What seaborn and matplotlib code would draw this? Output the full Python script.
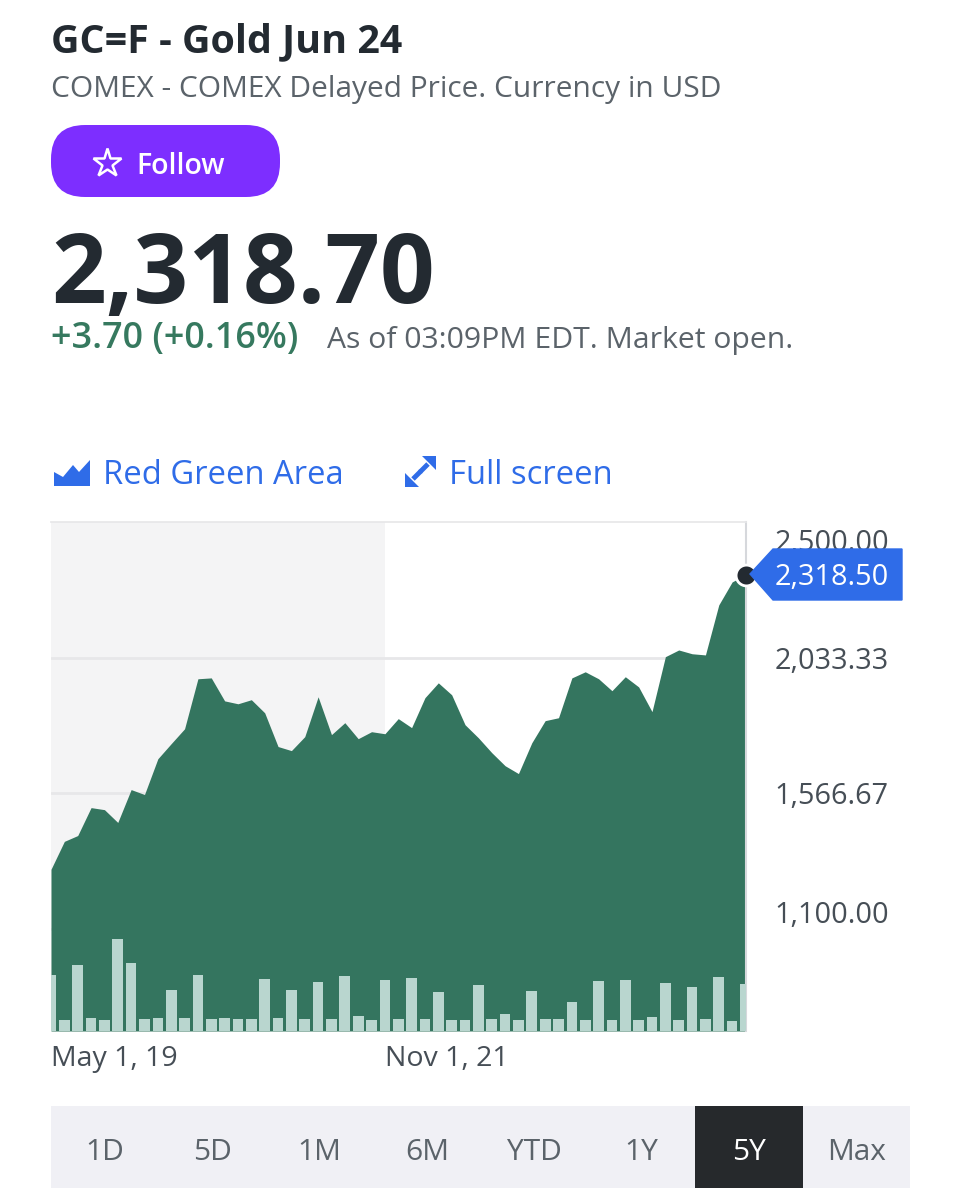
import matplotlib
matplotlib.use("Agg")
import matplotlib.pyplot as plt
import matplotlib.transforms as mtrans
from matplotlib.patches import FancyBboxPatch, Polygon, Rectangle
import pandas as pd
import seaborn as sns

# monthly close
price = [1306, 1402, 1422, 1518, 1511, 1467, 1580, 1563, 1686, 1738, 1789, 1961, 1964,
         1885, 1875, 1889, 1844, 1728, 1714, 1762, 1899, 1769, 1810, 1755, 1779, 1772,
         1824, 1793, 1896, 1947, 1906, 1803, 1758, 1707, 1662, 1635, 1741, 1817, 1827,
         1964, 1985, 1961, 1920, 1968, 1933, 1848, 2037, 2060, 2047, 2043, 2215, 2294, 2318.5]
# volume, relative bar heights
volume = [56, 11, 66, 13, 11, 92, 68, 12, 13, 41, 13, 56, 12, 13, 12, 12, 52, 13, 41, 12,
          49, 12, 55, 15, 11, 51, 12, 53, 12, 39, 11, 11, 46, 12, 17, 11, 40, 12, 12, 29,
          11, 50, 11, 51, 11, 14, 48, 11, 44, 12, 54, 10, 47]
y_ticks = [2500.00, 2033.33, 1566.67, 1100.00]
x_tick_pos = [0, 25]
x_tick_labels = ["May 1, 19", "Nov 1, 21"]
ranges = ["1D", "5D", "1M", "6M", "YTD", "1Y", "5Y", "Max"]

DARK = "#232a31"
GREY = "#5b636a"
AXIS = "#464e56"
GREEN = "#34755f"
BLUE = "#2f6ce8"
PURPLE = "#7d2eff"

sns.set_theme(style="white")
plt.rcParams["font.family"] = ["Open Sans", "DejaVu Sans"]

W, H = 961, 1200
df = pd.DataFrame({"i": range(len(price)), "price": price, "volume": volume})

fig = plt.figure(figsize=(W / 100, H / 100), dpi=100, facecolor="white")
ax = fig.add_axes([51 / W, 1 - 1031 / H, 694.5 / W, 509 / H])

ax.axvspan(0, 25, color="#f4f4f5", lw=0, zorder=0)
for v in y_ticks[1:]:
    ax.axhline(v, color="#e7e7e9", lw=2, zorder=1)
ax.fill_between(df["i"], df["price"], 750, color=GREEN, lw=0, zorder=2)
ax.plot(df["i"].iloc[-1], df["price"].iloc[-1], "o", ms=15, mfc=DARK, mec="white", mew=2,
        clip_on=False, zorder=6)

ax2 = ax.twinx()
sns.barplot(data=df, x="i", y="volume", ax=ax2, native_scale=True, color="#b9d6cf",
            saturation=1, width=0.8, linewidth=0)
ax2.set_xlim(0, 52)
ax2.set_ylim(0, 509)
ax2.set_ylabel("")
ax2.set_xlabel("")
ax2.set_yticks([])
for sp in ax2.spines.values():
    sp.set_visible(False)

ax.set_xlim(0, 52)
ax.set_ylim(750, 2500)
ax.set_xlabel("")
ax.set_ylabel("")
ax.set_xticks(x_tick_pos, x_tick_labels, ha="left", fontsize=20.5, fontweight="medium", color=AXIS)
ax.yaxis.tick_right()
ax.set_yticks(y_ticks, [f"{v:,.2f}" for v in y_ticks], fontsize=20.8, fontweight="medium", color=AXIS)
ax.tick_params(axis="both", length=0)
ax.tick_params(axis="x", pad=10)
ax.tick_params(axis="y", pad=21)
for sp in ["left", "bottom"]:
    ax.spines[sp].set_visible(False)
ax.spines["top"].set_color("#e7e7e9")
ax.spines["right"].set_color("#d6d8dc")
ax.spines["right"].set_linewidth(1.5)

# the outer two axis labels are nudged inwards
labs = ax.get_yticklabels()
labs[0].set_transform(labs[0].get_transform() + mtrans.Affine2D().translate(0, -18))
labs[3].set_transform(labs[3].get_transform() + mtrans.Affine2D().translate(0, 17))

# page furniture, in pixel coordinates
ui = fig.add_axes([0, 0, 1, 1], facecolor="none")
ui.set_xlim(0, W)
ui.set_ylim(H, 0)
ui.axis("off")

ui.text(51, 52, "GC=F - Gold Jun 24", fontsize=28.4, fontweight="bold", color=DARK)
ui.text(51, 97, "COMEX - COMEX Delayed Price. Currency in USD", fontsize=21.55, color=GREY)

ui.add_patch(FancyBboxPatch((51, 125), 229, 72, boxstyle="round,pad=0,rounding_size=34",
                            fc=PURPLE, ec="none"))
ui.plot(107, 163, marker="*", ms=21, mfc="none", mec="white", mew=1.8)
ui.text(136, 174, "Follow", fontsize=20.5, fontweight="semibold", color="white")

ui.text(51, 303, "2,318.70", fontsize=69, fontweight="bold", color=DARK)
ui.text(51, 348, "+3.70 (+0.16%)", fontsize=25.9, fontweight="semibold", color="#36795f")
ui.text(327, 348, "As of 03:09PM EDT. Market open.", fontsize=21.7, color=GREY)

# area icon
ui.add_patch(Polygon([(54, 486), (54, 472), (63, 477), (73, 465), (79, 472), (90, 460), (90, 486)],
                     fc=BLUE, ec="none"))
ui.text(103, 484, "Red Green Area", fontsize=23.6, fontweight="medium", color=BLUE)
# full screen icon
ui.add_patch(Polygon([(422, 456), (436, 456), (436, 470)], fc=BLUE, ec="none"))
ui.add_patch(Polygon([(405, 487), (419, 487), (405, 473)], fc=BLUE, ec="none"))
ui.plot([428, 420], [464, 472], color=BLUE, lw=3.5, solid_capstyle="butt")
ui.plot([413, 421], [479, 471], color=BLUE, lw=3.5, solid_capstyle="butt")
ui.text(449, 484, "Full screen", fontsize=23.6, fontweight="medium", color=BLUE)

# last price tag
ui.add_patch(Polygon([(750, 574), (773, 549), (902, 549), (902, 600), (773, 600)], fc=BLUE, ec=BLUE, lw=1))
ui.text(832, 585, "2,318.50", fontsize=20.8, color="white", ha="center")

# range selector
ui.add_patch(Rectangle((51, 1106), 859, 82, fc="#f0f0f5", ec="none"))
step = 859 / len(ranges)
for k, r in enumerate(ranges):
    on = r == "5Y"
    if on:
        ui.add_patch(Rectangle((51 + k * step, 1106), step, 82, fc="#26292c", ec="none"))
    ui.text(51 + (k + 0.5) * step, 1160, r, fontsize=21.5, fontweight="medium",
            color="white" if on else GREY, ha="center")

fig.savefig("out.png", dpi=100)
